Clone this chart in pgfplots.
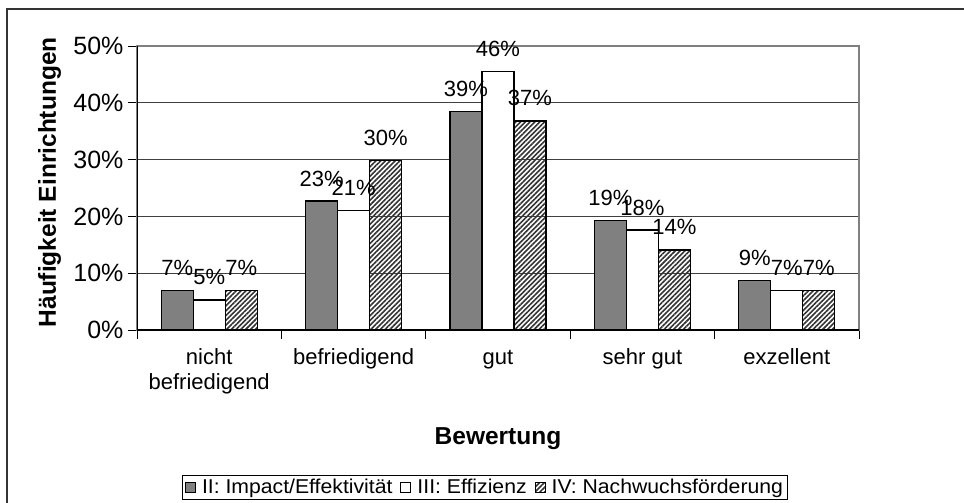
\documentclass[border=0pt]{standalone}
\usepackage{fontspec}
\setmainfont{Liberation Sans}
\newfontfamily\legfam[FakeStretch=1.06]{Liberation Sans}
\usepackage{pgfplots}
\pgfplotsset{compat=1.18}
\usetikzlibrary{patterns.meta}

\newcommand\tickfont{\fontsize{25bp}{29bp}\selectfont}
\newcommand\catfont{\fontsize{22bp}{25bp}\selectfont}
\newcommand\titlefont{\bfseries\fontsize{24.5bp}{28bp}\selectfont}
\newcommand\legfont{\legfam\fontsize{20bp}{24bp}\selectfont\hspace*{3bp}}

\begin{document}
\begin{tikzpicture}
\useasboundingbox (0bp,0bp) rectangle (964bp,-503bp);
% outer chart frame (right and bottom sides fall outside the picture)
\draw[black!80, line width=1.5bp] (7bp,-503bp) -- (7bp,-9bp) -- (964bp,-9bp);
\begin{axis}[
  at={(137bp,-330bp)}, anchor=south west,
  scale only axis, width=722bp, height=284bp,
  xmin=-0.5, xmax=4.5, ymin=0, ymax=50,
  ybar=0pt, bar width=32bp,
  xtick={0,1,2,3,4},
  xticklabels={{\strut nicht\\befriedigend},\strut befriedigend,\strut gut,\strut sehr gut,\strut exzellent},
  xticklabel style={font=\catfont, align=center, yshift=-4bp},
  major x tick style={draw=none},
  minor xtick={-0.5,0.5,1.5,2.5,3.5,4.5},
  ytick={0,10,20,30,40,50},
  yticklabel={\pgfmathprintnumber{\tick}\%},
  yticklabel style={font=\tickfont, xshift=-1bp},
  /pgf/number format/assume math mode=true,
  xtick pos=left, ytick pos=left,
  tick align=outside, major tick length=9bp, minor tick length=9bp,
  tick style={black, line width=1bp},
  ymajorgrids, grid style={black!75, line width=1bp},
  axis line style={draw=black!50, line width=1.2bp},
  xlabel={Bewertung}, ylabel={Häufigkeit Einrichtungen},
  xlabel style={font=\titlefont, at={(axis description cs:0.5,-0.381)}, anchor=center},
  ylabel style={font=\titlefont, at={(axis description cs:-0.121,0.52)}, anchor=center},
  point meta=explicit symbolic,
  nodes near coords={\pgfplotspointmeta},
  every node near coord/.append style={font=\catfont, anchor=base, inner sep=0pt, yshift=15bp},
  legend columns=3,
  legend style={at={(axis description cs:0.482,-0.51)}, anchor=north,
    draw=black, line width=1bp, inner ysep=2bp, inner xsep=3bp,
    /tikz/every odd column/.append style={column sep=1bp},
    /tikz/every even column/.append style={column sep=6bp}},
  legend image code/.code={\draw[#1, line width=1bp] (0bp,-5bp) rectangle (10bp,5bp);},
]
\addplot[draw=black, line width=1.3bp, fill=black!50] coordinates {
  (0,7.0)[7\%] (1,22.7)[23\%] (2,38.5)[39\%] (3,19.3)[19\%] (4,8.7)[9\%]};
\addlegendentry{\legfont II: Impact/Effektivität}
\addplot[draw=black, line width=1.3bp, fill=white] coordinates {
  (0,5.3)[5\%] (1,21.0)[21\%] (2,45.5)[46\%] (3,17.6)[18\%] (4,6.9)[7\%]};
\addlegendentry{\legfont III: Effizienz}
\addplot[draw=black, line width=1.3bp, fill=white,
  pattern={Lines[angle=45, distance=3.4bp, line width=1.6bp]}, pattern color=black!80] coordinates {
  (0,7.0)[7\%] (1,29.9)[30\%] (2,36.8)[37\%] (3,14.1)[14\%] (4,6.9)[7\%]};
\addlegendentry{\legfont IV: Nachwuchsförderung}
% left and bottom axis lines are black, the other two sides grey
\draw[black, line width=1.2bp] (rel axis cs:0,1) -- (rel axis cs:0,0) -- (rel axis cs:1,0);
\end{axis}
\end{tikzpicture}
\end{document}
